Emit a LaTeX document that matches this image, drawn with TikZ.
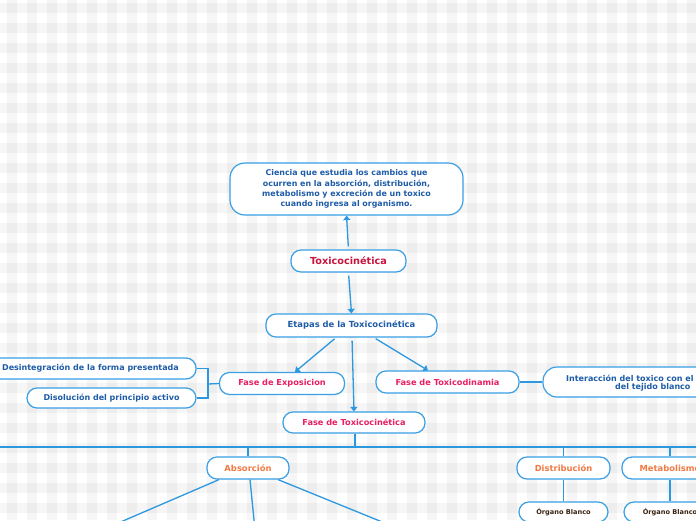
\documentclass[tikz,border=0pt]{standalone}
\usepackage{fontspec}
\setmainfont{DejaVu Sans}
\usetikzlibrary{arrows.meta,calc}
\definecolor{bordc}{HTML}{3A9FE4}
\definecolor{linec}{HTML}{2C98E0}
\definecolor{tblue}{HTML}{1E5CA8}
\definecolor{tcrim}{HTML}{C8153F}
\definecolor{tpink}{HTML}{E81E62}
\definecolor{torange}{HTML}{F07A45}
\definecolor{tbrown}{HTML}{3B2314}
\begin{document}
\begin{tikzpicture}[x=1pt,y=-1pt,
  box/.style={draw=bordc, line width=1.2pt, fill=white, rounded corners=10pt, inner sep=0pt, align=center, font=\bfseries\fontsize{8}{10}\selectfont},
  conn/.style={draw=linec, line width=1.3pt},
  arr/.style={conn, -{Triangle[width=7pt,length=4.5pt]}},
  txt/.style={inner sep=0pt, font=\bfseries\fontsize{8}{10}\selectfont, text=tblue}
]
\useasboundingbox (0,0) rectangle (696,520);
\clip (0,0) rectangle (696,520);
\fill[white] (0,0) rectangle (696,520);
\foreach \i in {0,...,34} \fill[black,opacity=0.034] (7+20*\i,0) rectangle (17+20*\i,520);
\foreach \j in {0,...,25} \fill[black,opacity=0.034] (0,3+20*\j) rectangle (696,13+20*\j);

% nodes
\node[box, minimum width=233pt, minimum height=52pt, rounded corners=15pt, text=tblue,
  font=\bfseries\fontsize{7.9}{10.3}\selectfont] (top) at (346.5,189)
  {Ciencia que estudia los cambios que\\ocurren en la absorción, distribución,\\metabolismo y excreción de un toxico\\cuando ingresa al organismo.};
\node[box, minimum width=115pt, minimum height=22pt, text=tcrim, font=\bfseries\fontsize{9.7}{11}\selectfont] (toxi) at (348.5,261) {Toxicocinética};
\node[box, minimum width=171pt, minimum height=23pt, text=tblue, font=\bfseries\fontsize{8.4}{10}\selectfont] (etapas) at (351.5,325.5) {Etapas de la Toxicocinética};
\node[box, minimum width=125pt, minimum height=22pt, text=tpink, font=\bfseries\fontsize{8.2}{10}\selectfont] (exp) at (282,383.5) {Fase de Exposicion};
\node[box, minimum width=143pt, minimum height=22pt, text=tpink, font=\bfseries\fontsize{8.2}{10}\selectfont] (dina) at (447.5,382) {Fase de Toxicodinamia};
\node[box, minimum width=217pt, minimum height=30pt, rounded corners=14pt] (inter) at (651.5,382) {};
\node[txt, anchor=west] (intA) at (566,378) {Interacción del toxico con el};
\node[txt, anchor=west] (intB) at (615,387.5) {del tejido blanco};
\node[box, minimum width=210pt, minimum height=21pt, text=tblue] (desint) at (91,368.5) {\hspace*{-1pt}Desintegración de la forma presentada};
\node[box, minimum width=169pt, minimum height=20pt, text=tblue] (disol) at (111.5,398) {Disolución del principio activo};
\node[box, minimum width=142pt, minimum height=21pt, text=tpink, font=\bfseries\fontsize{8.2}{10}\selectfont] (fasetox) at (354,422.5) {Fase de Toxicocinética};
\node[box, minimum width=82pt, minimum height=22pt, text=torange, font=\bfseries\fontsize{8.4}{10}\selectfont] (abs) at (248,468) {Absorción};
\node[box, minimum width=93pt, minimum height=22pt, text=torange, font=\bfseries\fontsize{8.4}{10}\selectfont] (dist) at (563.5,468) {Distribución};
\node[box, minimum width=96pt, minimum height=22pt, text=torange, font=\bfseries\fontsize{8.4}{10}\selectfont] (meta) at (670,468) {Metabolismo};
\node[box, minimum width=89pt, minimum height=20pt, text=tbrown, font=\bfseries\fontsize{6.6}{8}\selectfont] (org1) at (563.5,512) {Órgano Blanco};
\node[box, minimum width=92pt, minimum height=20pt, text=tbrown, font=\bfseries\fontsize{6.6}{8}\selectfont] (org2) at (670,512) {Órgano Blanco};

% coordinates
\coordinate (hl) at (-5,447);
\coordinate (hr) at (701,447);
\coordinate (bj) at (208,384);
\coordinate (a1) at (102,530);
\coordinate (a2) at (255,530);
\coordinate (a3) at (402,530);

% connectors
\draw[arr, shorten <=3pt] (toxi.north) -- (top.south);
\draw[arr, shorten <=3pt] (toxi.south) -- (etapas.north);
\draw[arr, shorten <=2pt] ([xshift=-15.5pt]etapas.south) -- ([xshift=13pt]exp.north);
\draw[arr, shorten <=2pt] ([xshift=22.5pt]etapas.south) -- ([xshift=-19.5pt]dina.north);
\draw[arr, shorten <=3pt] ([xshift=0.5pt]etapas.south) -- (fasetox.north);
\draw[conn] (dina.east) -- (dina.east -| inter.west);
\draw[conn] (desint.east) -| (bj) |- (disol.east);
\draw[conn] (bj) -- (exp.west);
\draw[conn, line width=1.6pt] (hl) -- (hr);
\draw[conn] ([xshift=1pt]fasetox.south) -- ([xshift=1pt]fasetox.south |- hl);
\draw[conn] (abs.north) -- (abs.north |- hl);
\draw[conn] (dist.north) -- (dist.north |- hl);
\draw[conn] (meta.north) -- (meta.north |- hl);
\draw[conn] (dist.south) -- (org1.north);
\draw[conn] (meta.south) -- (org2.north);
\draw[conn] ([xshift=-29pt]abs.south) -- (a1);
\draw[conn] ([xshift=2pt]abs.south) -- (a2);
\draw[conn] ([xshift=30pt]abs.south) -- (a3);
\end{tikzpicture}
\end{document}
